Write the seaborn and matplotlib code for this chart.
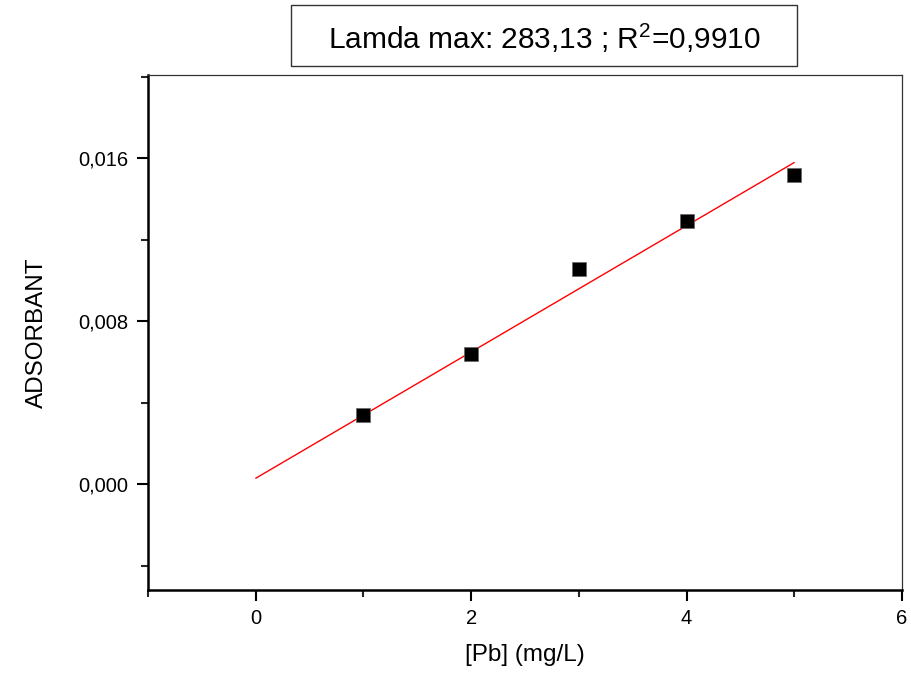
import numpy as np
import pandas as pd
import matplotlib
matplotlib.use('Agg')
import matplotlib.pyplot as plt
import matplotlib.patches as patches
from matplotlib.ticker import MultipleLocator, FuncFormatter
import seaborn as sns

# Data
pb_conc = [1, 2, 3, 4, 5]
absorbance = [0.00339, 0.00638, 0.01059, 0.01292, 0.01520]

# Fitted line (as drawn)
fit_x = [0, 5]
fit_y = [0.00029, 0.0158]

title_text = r'Lamda max: 283,13 ; R$^{\mathregular{2}}$=0,9910'

sns.set_theme(style='ticks')
plt.rcParams['font.family'] = ['Liberation Sans', 'DejaVu Sans']
plt.rcParams['mathtext.fontset'] = 'custom'
plt.rcParams['mathtext.rm'] = 'Liberation Sans'
plt.rcParams['text.color'] = 'black'
plt.rcParams['axes.labelcolor'] = 'black'

df = pd.DataFrame({'x': pb_conc, 'y': absorbance})
fit_df = pd.DataFrame({'x': fit_x, 'y': fit_y})

fig = plt.figure(figsize=(9.12, 6.75), dpi=100)
ax = fig.add_axes([0.1623, 0.1259, 0.8267, 0.763])

sns.lineplot(data=fit_df, x='x', y='y', ax=ax, color='red', linewidth=1.0)
sns.scatterplot(data=df, x='x', y='y', ax=ax, marker='s', s=90,
                color='black', edgecolor='#666666', linewidth=0.5, zorder=3)

ax.set_xlim(-1, 6)
ax.set_ylim(-0.0052, 0.0201)
ax.xaxis.set_major_locator(MultipleLocator(2))
ax.xaxis.set_minor_locator(MultipleLocator(1))
ax.yaxis.set_major_locator(MultipleLocator(0.008))
ax.yaxis.set_minor_locator(MultipleLocator(0.004))
ax.yaxis.set_major_formatter(FuncFormatter(lambda v, p: f'{v:.3f}'.replace('.', ',')))
ax.xaxis.set_major_formatter(FuncFormatter(lambda v, p: f'{v:.0f}'))

ax.tick_params(which='major', direction='out', length=8, width=1.5,
               labelsize=14.5, colors='black', pad=6)
ax.tick_params(which='minor', direction='out', length=5, width=1.5)
ax.tick_params(top=False, right=False, which='both')

for side in ['left', 'bottom']:
    ax.spines[side].set_linewidth(1.8)
    ax.spines[side].set_color('black')
for side in ['top', 'right']:
    ax.spines[side].set_visible(True)
    ax.spines[side].set_linewidth(0.9)
    ax.spines[side].set_color('#333333')

ax.set_xlabel('[Pb] (mg/L)', fontsize=17.5, labelpad=11, color='black')
ax.set_ylabel('ADSORBANT', fontsize=17.5, labelpad=22, color='black')

# Title box
fig.patches.append(patches.Rectangle((0.319, 0.902), 0.555, 0.0904,
                                     transform=fig.transFigure, fill=False,
                                     edgecolor='#333333', linewidth=1.0))
fig.text(0.5965, 0.944, title_text, fontsize=21.5, ha='center', va='center',
         color='black')

fig.savefig('out.png', dpi=100)
